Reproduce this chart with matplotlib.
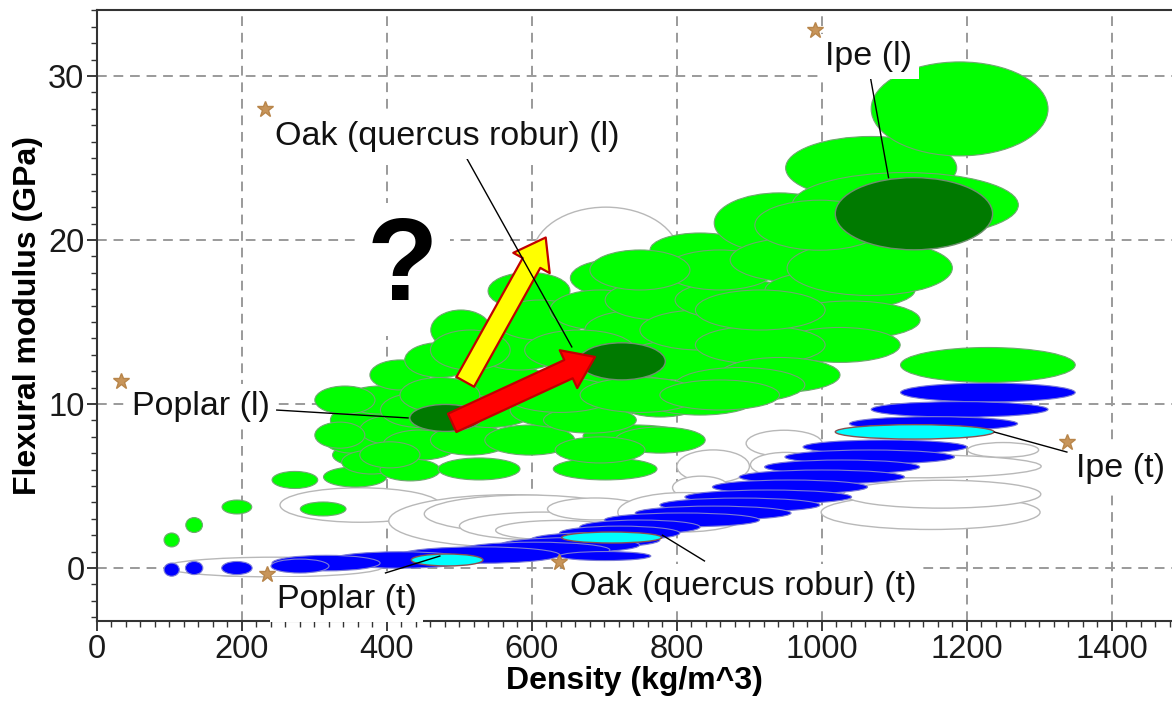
import matplotlib
matplotlib.use('Agg')
import matplotlib.pyplot as plt
from matplotlib.patches import Ellipse
from matplotlib.ticker import MultipleLocator

plt.rcParams['font.family'] = ['Liberation Sans', 'DejaVu Sans']

# wood, longitudinal (l): density centre, modulus centre, density span, modulus span
long_rho = [103, 134, 193, 273, 312, 356, 363, 352, 360, 390, 418, 379, 411, 446, 432,
            502, 473, 527, 515, 542, 556, 583, 596, 611, 597, 639, 701, 742, 680, 715,
            694, 749, 832, 777, 694, 777, 804, 832, 887, 859, 941, 970, 1025, 1039, 1025,
            915, 942, 1068, 1066, 1115, 1190, 1229, 887, 832,
            639, 749, 859, 446, 473, 515, 666, 749, 915, 777, 694, 342, 335, 404, 997]
long_E = [1.71, 2.62, 3.72, 5.37, 3.60, 5.55, 6.89, 7.80, 9.02, 10.24, 11.77, 6.46, 8.41, 7.50, 5.98,
          14.51, 12.68, 6.04, 7.80, 9.63, 11.46, 13.29, 16.89, 15.12, 7.80, 9.63, 6.04, 8.05, 9.02, 17.68,
          15.73, 14.51, 19.39, 16.34, 11.46, 10.24, 12.68, 14.51, 16.34, 18.17, 21.04, 18.78, 16.95, 15.12, 13.60,
          13.60, 11.77, 24.39, 18.29, 22.13, 27.99, 12.38, 11.16, 10.24,
          10.55, 10.55, 10.55, 9.63, 10.55, 13.29, 13.29, 18.17, 15.73, 7.80, 7.20, 10.24, 8.10, 6.90, 20.9]
long_drho = [21, 23, 41, 63, 63, 87, 76, 76, 76, 97, 83, 83, 97, 103, 83,
             83, 97, 113, 110, 124, 124, 124, 113, 124, 124, 138, 143, 143, 128, 124,
             138, 152, 138, 152, 152, 124, 152, 166, 179, 152, 179, 193, 207, 193, 166,
             179, 166, 236, 228, 312, 244, 241, 179, 152,
             152, 165, 165, 110, 110, 110, 152, 138, 179, 124, 124, 83, 69, 83, 179]
long_dE = [0.85, 0.91, 0.85, 1.04, 0.85, 1.22, 1.34, 1.59, 1.71, 1.71, 1.83, 1.46, 1.83, 1.83, 1.34,
           2.44, 2.13, 1.34, 1.83, 2.13, 2.13, 2.44, 2.26, 2.44, 1.83, 2.13, 1.34, 1.34, 1.59, 2.26,
           2.44, 2.44, 2.07, 2.44, 2.44, 2.07, 2.44, 2.44, 2.44, 2.44, 3.66, 2.74, 2.44, 2.32, 2.13,
           2.32, 2.13, 3.84, 3.35, 3.96, 5.73, 2.13, 2.13, 1.83,
           2.13, 2.13, 1.83, 2.13, 2.13, 2.44, 2.44, 2.44, 2.44, 1.59, 1.59, 1.71, 1.59, 1.59, 3.05]

# wood, transverse (t)
trans_rho = [103, 134, 193, 280, 316, 418, 528, 701, 604, 652, 687, 721, 749, 807, 850,
             887, 926, 956, 1000, 1028, 1066, 1087, 1154, 1190, 1229]
trans_E = [-0.10, 0.00, 0.00, 0.12, 0.30, 0.49, 0.79, 0.73, 1.10, 1.40, 1.71, 2.13, 2.50, 2.93, 3.35,
           3.84, 4.33, 4.94, 5.55, 6.16, 6.77, 7.38, 8.80, 9.67, 10.70]
trans_drho = [21, 24, 42, 80, 149, 193, 221, 126, 207, 193, 179, 166, 166, 214, 215,
              221, 230, 214, 228, 214, 234, 226, 232, 244, 241]
trans_dE = [0.80, 0.80, 0.80, 0.85, 0.95, 1.00, 1.00, 0.55, 0.95, 0.90, 0.90, 0.85, 0.85, 0.85, 0.85,
            0.85, 0.85, 0.85, 0.85, 0.85, 0.85, 0.85, 0.85, 0.95, 1.15]

# other materials (outline only)
other_rho = [363, 570, 593, 615, 637, 687, 702, 1150, 1130, 1166, 948, 950, 850, 833, 810, 190, 244, 1250]
other_E = [3.84, 2.87, 3.30, 2.56, 2.30, 3.60, 19.0, 3.4, 6.2, 4.5, 7.6, 6.3, 6.2, 4.9, 3.4, 0.0, 0.06, 7.2]
other_drho = [221, 335, 283, 230, 174, 131, 203, 302, 345, 272, 105, 97, 100, 78, 183, 90, 300, 98]
other_dE = [2.1, 3.2, 2.3, 1.7, 1.2, 1.34, 6.0, 2.1, 1.4, 1.7, 1.6, 1.5, 2.0, 1.4, 2.4, 1.0, 1.2, 0.9]

# highlighted woods: Poplar, Oak, Ipe
sel_names = ['Poplar', 'Oak (quercus robur)', 'Ipe']
sel_l_rho = [481, 724, 1127]
sel_l_E = [9.15, 12.6, 21.6]
sel_l_drho = [99, 120, 217]
sel_l_dE = [1.65, 2.26, 4.4]
sel_t_rho = [483, 710, 1128]
sel_t_E = [0.49, 1.86, 8.3]
sel_t_drho = [99, 138, 219]
sel_t_dE = [0.73, 0.67, 0.88]

# label anchors (stars), text positions and leader lines
label_text = ['Poplar (l)', 'Oak (quercus robur) (l)', 'Ipe (l)',
              'Poplar (t)', 'Oak (quercus robur) (t)', 'Ipe (t)']
star_rho = [33, 232, 990, 234, 637, 1338]
star_E = [11.4, 28.0, 32.8, -0.37, 0.37, 7.68]
text_rho = [48, 246, 1004, 248, 652, 1350]
text_E = [9.33, 25.8, 30.67, -2.44, -1.65, 5.55]
lead_rho = [(248, 429), (509, 655), (1067, 1092), (398, 473), (780, 838), (1238, 1338)]
lead_E = [(9.63, 9.15), (25.06, 13.48), (29.9, 23.8), (-0.3, 0.73), (2.0, 0.43), (8.29, 7.07)]

# arrows: (tail, tip)
red_arrow = [(490, 8.85), (687, 12.87)]
yellow_arrow = [(508, 11.35), (619, 20.15)]


def add_ellipses(ax, xs, ys, ws, hs, fc, ec, lw, z):
    for x, y, w, h in zip(xs, ys, ws, hs):
        ax.add_patch(Ellipse((x, y), w, h, facecolor=fc, edgecolor=ec, linewidth=lw, zorder=z))


fig = plt.figure(figsize=(11.72, 7.05), dpi=100)
ax = fig.add_axes([97 / 1172, 84 / 705, 1 - 97 / 1172, 611.5 / 705])

add_ellipses(ax, other_rho, other_E, other_drho, other_dE, 'white', '#b8b8b8', 1.0, 1.0)
add_ellipses(ax, trans_rho[::-1], trans_E[::-1], trans_drho[::-1], trans_dE[::-1],
             '#0000ff', '#7c7cd6', 0.8, 1.5)
add_ellipses(ax, long_rho, long_E, long_drho, long_dE, '#00ff00', '#6fa86f', 0.8, 1.6)
add_ellipses(ax, sel_l_rho, sel_l_E, sel_l_drho, sel_l_dE, '#007a00', '#6f8f6f', 1.0, 2.0)
add_ellipses(ax, sel_t_rho, sel_t_E, sel_t_drho, sel_t_dE, '#00ffff', '#8a5050', 1.0, 2.0)

for arrow, fc in [(red_arrow, '#ff0000'), (yellow_arrow, '#ffff00')]:
    ax.annotate('', xy=arrow[1], xytext=arrow[0],
                arrowprops=dict(arrowstyle='simple,head_length=2.1,head_width=3.0,tail_width=1.45',
                                mutation_scale=10, fc=fc, ec='#c00000', lw=1.6,
                                shrinkA=0, shrinkB=0),
                zorder=3)

for xs, ys in zip(lead_rho, lead_E):
    ax.plot(xs, ys, color='black', linewidth=1.0, zorder=3.5)

for txt, x, y in zip(label_text, text_rho, text_E):
    ax.text(x, y, txt, fontsize=24.5, ha='left', va='baseline', color='#111111', zorder=5,
            bbox=dict(boxstyle='square,pad=0.2', fc='white', ec='none'), clip_on=False)

ax.plot(star_rho, star_E, '*', color='#c8955a', markersize=12, markeredgecolor='#b8854a',
        zorder=6, clip_on=False)

ax.text(421, 16.34, '?', fontsize=84, fontweight='bold', ha='center', va='baseline',
        color='black', zorder=1.05, bbox=dict(boxstyle='square,pad=0.1', fc='white', ec='none'))

ax.set_xlim(0, 1483)
ax.set_ylim(-3.23, 34.05)
ax.xaxis.set_major_locator(MultipleLocator(200))
ax.xaxis.set_minor_locator(MultipleLocator(20))
ax.yaxis.set_major_locator(MultipleLocator(10))
ax.yaxis.set_minor_locator(MultipleLocator(1))
ax.tick_params(which='major', direction='out', length=7, width=1.2, labelsize=23.5,
               pad=2, colors='#1a1a1a')
ax.tick_params(which='minor', direction='out', length=4, width=1.0, colors='#333333')

ax.set_axisbelow(True)
ax.grid(True, which='major', color='#9a9a9a', linestyle=(0, (5, 3.5)), linewidth=1.4)

ax.spines['right'].set_visible(False)
for side in ['left', 'top', 'bottom']:
    ax.spines[side].set_linewidth(1.5)
    ax.spines[side].set_color('#333333')

ax.set_xlabel('Density (kg/m^3)', fontsize=23, fontweight='bold', labelpad=1)
ax.set_ylabel('Flexural modulus (GPa)', fontsize=23, fontweight='bold', labelpad=4)

fig.savefig('out.png', dpi=100)
